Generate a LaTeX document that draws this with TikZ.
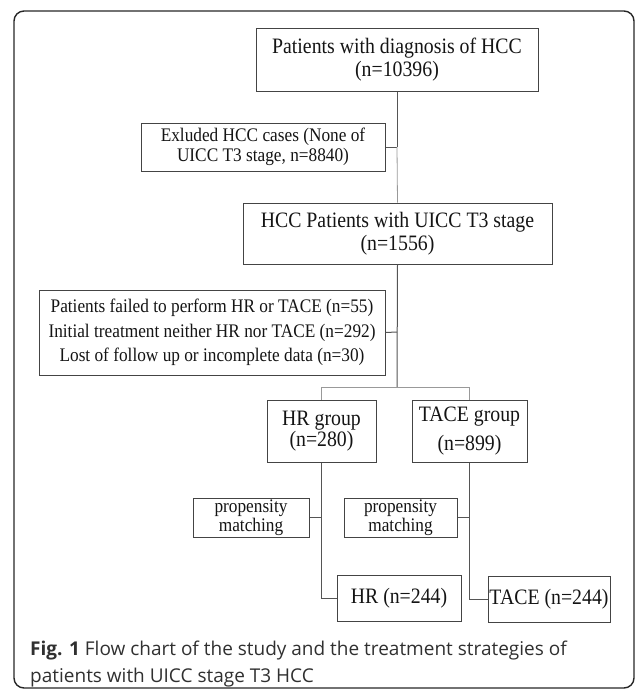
\documentclass[tikz,border=0pt]{standalone}
\usepackage{fontspec}
\newfontfamily\bxf[FakeStretch=0.9]{Liberation Serif}
\newfontfamily\capf{Open Sans}
\definecolor{boxcol}{HTML}{444444}
\definecolor{linecol}{HTML}{555555}
\definecolor{lightline}{HTML}{999999}
\definecolor{txtcol}{HTML}{141414}
\definecolor{capcol}{HTML}{303030}
\tikzset{
  fbox/.style={draw=boxcol, line width=1pt, inner sep=0pt, align=center, text=txtcol},
  bigtxt/.style={font=\bxf\fontsize{22}{23}\selectfont},
  smalltxt/.style={font=\bxf\fontsize{19.2}{19.5}\selectfont},
  conn/.style={draw=linecol, line width=1pt},
  lconn/.style={draw=lightline, line width=0.8pt},
  captxt/.style={font=\capf\fontsize{19}{22}\selectfont, text=capcol, inner sep=0pt, anchor=base west}
}
\begin{document}
\begin{tikzpicture}[x=1pt,y=-1pt]
\useasboundingbox (0,0) rectangle (635,691);
\draw[line width=1.4pt, draw=black!85, rounded corners=10pt] (14,11) rectangle (634,688);

\node[fbox, bigtxt, minimum width=282pt, minimum height=63pt] (top) at (397,59.5)
  {Patients with diagnosis of HCC\\(n=10396)};
\node[fbox, smalltxt, minimum width=244pt, minimum height=48pt] (ex1) at (263,147)
  {Exluded HCC cases (None of\\UICC T3 stage, n=8840)};
\node[fbox, bigtxt, minimum width=309pt, minimum height=61pt] (t3) at (397.5,233.5)
  {HCC Patients with UICC T3 stage\\(n=1556)};
\node[fbox, font=\bxf\fontsize{19.2}{24.5}\selectfont, minimum width=346pt, minimum height=85pt] (ex2) at (212,332.5)
  {Patients failed to perform HR or TACE (n=55)\\Initial treatment neither HR nor TACE (n=292)\\Lost of follow up or incomplete data (n=30)};
\node[fbox, font=\bxf\fontsize{22}{20.5}\selectfont, minimum width=109pt, minimum height=62pt] (hrg) at (321.5,431)
  {HR group\\(n=280)};
\node[fbox, font=\bxf\fontsize{22}{29}\selectfont, minimum width=115pt, minimum height=62pt] (taceg) at (469.5,431)
  {TACE group\\(n=899)};
\node[fbox, font=\bxf\fontsize{19.2}{17}\selectfont, minimum width=116pt, minimum height=39pt] (p1) at (251,517.5)
  {propensity\\matching};
\node[fbox, font=\bxf\fontsize{19.2}{17}\selectfont, minimum width=113pt, minimum height=39pt] (p2) at (400.5,517.5)
  {propensity\\matching};
\node[fbox, bigtxt, minimum width=124pt, minimum height=46pt] (hr) at (399,598)
  {HR (n=244)};
\node[fbox, bigtxt, minimum width=122pt, minimum height=46pt] (tace) at (549,599)
  {TACE (n=244)};

\coordinate (j1) at (397,147);
\coordinate (j2) at (397,332);
\coordinate (fk) at (397,387);
\coordinate (fl) at (321.5,387);
\coordinate (fr) at (469.5,387);
\coordinate (h1) at (321.5,517.5);
\coordinate (h2) at (321.5,598);
\coordinate (t1) at (469.5,517.5);
\coordinate (t2) at (469.5,599);

\draw[conn] (top.south) -- (j1);
\draw[conn] (ex1.east) -- (j1);
\draw[lconn] (j1) -- (t3.north);
\draw[conn] (t3.south) -- (fk);
\draw[conn] (ex2.east) -- (j2);
\draw[lconn] (fl) -- (fr);
\draw[lconn] (fl) -- (hrg.north);
\draw[lconn] (fr) -- (taceg.north);
\draw[conn] (hrg.south) -- (h2) -- (hr.west);
\draw[conn] (p1.east) -- (h1);
\draw[conn] (taceg.south) -- (t2) -- (tace.west);
\draw[conn] (p2.east) -- (t1);

\node[captxt] (cap1) at (30,655) {\textbf{Fig. 1} Flow chart of the study and the treatment strategies of};
\node[captxt] (cap2) at (30,682) {patients with UICC stage T3 HCC};
\end{tikzpicture}
\end{document}
